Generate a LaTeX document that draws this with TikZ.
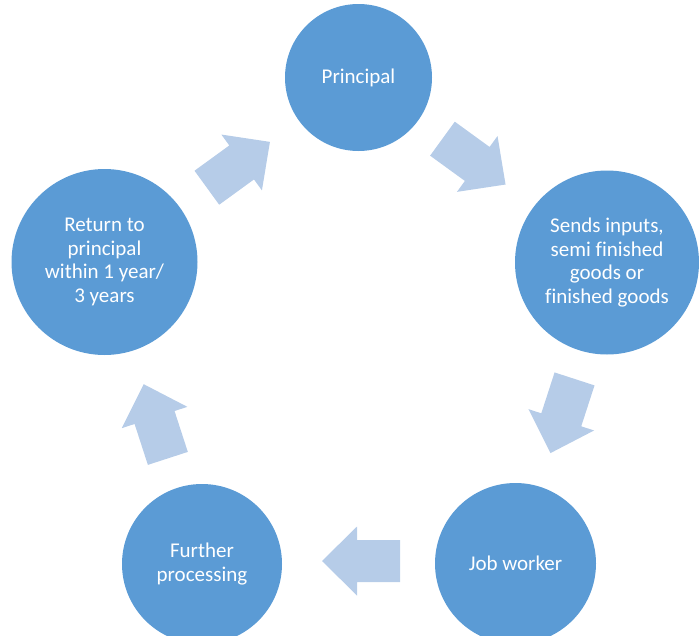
\documentclass[tikz,border=0pt]{standalone}
\usepackage{fontspec}
\setmainfont{Carlito}[Ligatures=CommonOff]
\usetikzlibrary{positioning}
\definecolor{stageblue}{HTML}{5B9BD5}
\definecolor{arrowblue}{HTML}{B6CCE8}

% block arrow pointing along +x, centred on the origin
\tikzset{
  cyclearrow/.pic={
    \fill[arrowblue] (-39,-21) -- (4,-21) -- (4,-34.5) -- (39,0)
      -- (4,34.5) -- (4,21) -- (-39,21) -- cycle;
  }
}

\begin{document}
\begin{tikzpicture}
  [x=1pt, y=-1pt,
   stage/.style={circle, fill=stageblue, text=white, inner sep=0pt, align=center,
     font=\fontsize{21}{23.5}\selectfont}]
  \clip (0,0) rectangle (699,635);

  \node[stage, minimum size=147pt] (principal) at (358.5,77.5) {Principal};
  \node[stage, minimum size=184pt] (sends) at (607,262.5) {Sends inputs,\\semi finished\\goods or\\finished goods};
  \node[stage, minimum size=161pt] (jobworker) at (515.5,563.5) {Job worker};
  \node[stage, minimum size=160pt] (further) at (202,564) {Further\\processing};
  \node[stage, minimum size=186pt] (return) at (104.5,262) {Return to\\principal\\within 1 year/\\3 years};

  % arrows round the cycle
  \pic[rotate=-36] at (474,161.6) {cyclearrow};
  \pic[rotate=-108] at (562.5,416) {cyclearrow};
  \pic[rotate=180] at (361,561) {cyclearrow};
  \pic[rotate=108] at (155.8,421.3) {cyclearrow};
  \pic[rotate=36] at (238.4,164.8) {cyclearrow};
\end{tikzpicture}
\end{document}
